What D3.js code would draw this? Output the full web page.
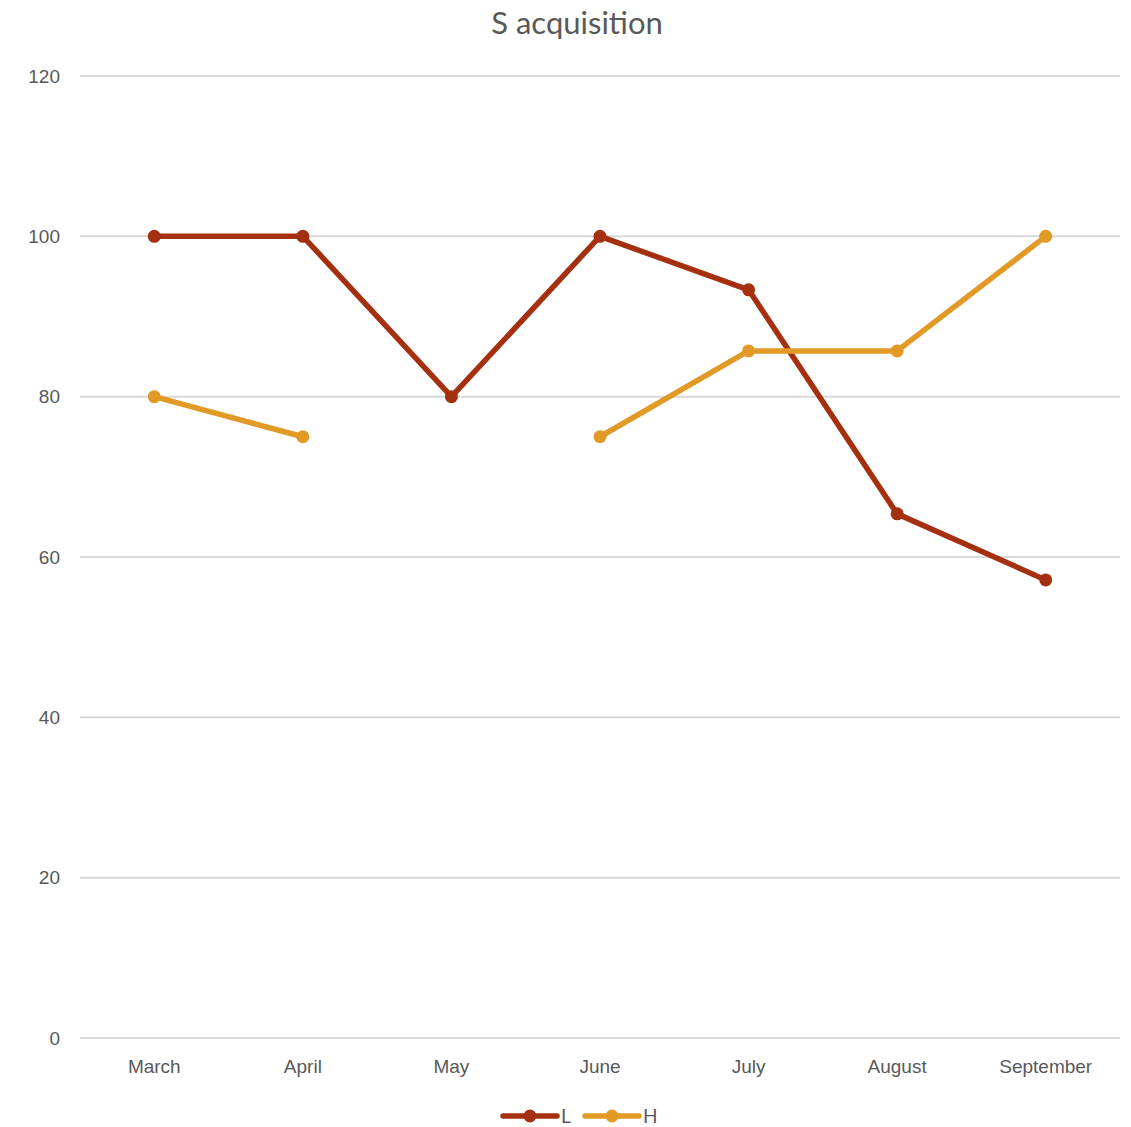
<!DOCTYPE html>
<html>
<head>
<meta charset="utf-8">
<script src="https://cdn.jsdelivr.net/npm/d3@7"></script>
<style>
  body { margin: 0; background: #fff; }
  svg { font-family: "Century Gothic", "URW Gothic", "Lato", sans-serif; }
</style>
</head>
<body>
<svg id="chart"></svg>
<script>
// chart data
const months = ["March", "April", "May", "June", "July", "August", "September"];
const seriesL = [100, 100, 80, 100, 93.33, 65.38, 57.14];
const seriesH = [80, 75, null, 75, 85.71, 85.71, 100];
const yTicks = [0, 20, 40, 60, 80, 100, 120];
const seriesNames = ["L", "H"];
const seriesColors = ["#A5300F", "#E29A27"];

const svgWidth = 1131, svgHeight = 1127;
const margin = { top: 76, left: 80, bottom: 89, right: 11 };
const width = svgWidth - margin.left - margin.right;
const height = svgHeight - margin.top - margin.bottom;

const svg = d3.select("#chart")
    .attr("width", svgWidth)
    .attr("height", svgHeight);

const g = svg.append("g")
    .attr("transform", "translate(" + margin.left + "," + margin.top + ")");

const x = d3.scaleBand()
    .domain(months)
    .range([0, width]);

const y = d3.scaleLinear()
    .domain([0, 120])
    .range([height, 0]);

// gridlines
g.append("g")
    .selectAll("line")
    .data(yTicks)
    .join("line")
    .attr("x1", 0)
    .attr("x2", width)
    .attr("y1", d => y(d))
    .attr("y2", d => y(d))
    .attr("stroke", "#D9D9D9")
    .attr("stroke-width", 2);

// y axis labels
const yAxis = g.append("g")
    .call(d3.axisLeft(y).tickValues(yTicks).tickSize(0).tickPadding(20));
yAxis.select(".domain").remove();
yAxis.selectAll("text")
    .attr("fill", "#595959")
    .style("font-size", "19px")
    .style("font-family", "inherit");

// x axis labels
const xAxis = g.append("g")
    .attr("transform", "translate(0," + height + ")")
    .call(d3.axisBottom(x).tickSize(0).tickPadding(22));
xAxis.select(".domain").remove();
xAxis.selectAll("text")
    .attr("fill", "#595959")
    .style("font-size", "19px")
    .style("font-family", "inherit");

const line = d3.line()
    .defined(d => d.v !== null)
    .x(d => x(d.m) + x.bandwidth() / 2)
    .y(d => y(d.v));

[seriesL, seriesH].forEach(function (vals, i) {
    const pts = months.map((m, j) => ({ m: m, v: vals[j] }));
    g.append("path")
        .datum(pts)
        .attr("fill", "none")
        .attr("stroke", seriesColors[i])
        .attr("stroke-width", 5.5)
        .attr("stroke-linejoin", "round")
        .attr("stroke-linecap", "round")
        .attr("d", line);
    g.append("g")
        .selectAll("circle")
        .data(pts.filter(d => d.v !== null))
        .join("circle")
        .attr("cx", d => x(d.m) + x.bandwidth() / 2)
        .attr("cy", d => y(d.v))
        .attr("r", 6.5)
        .attr("fill", seriesColors[i]);
});

// title
svg.append("text")
    .attr("x", 577)
    .attr("y", 34)
    .attr("text-anchor", "middle")
    .attr("fill", "#595959")
    .style("font-size", "31px")
    .text("S acquisition");

// legend
const legend = svg.append("g")
    .attr("transform", "translate(503,1116)");
const legendX = [0, 82];
seriesNames.forEach(function (name, i) {
    const lg = legend.append("g").attr("transform", "translate(" + legendX[i] + ",0)");
    lg.append("line")
        .attr("x1", 0).attr("x2", 54)
        .attr("stroke", seriesColors[i])
        .attr("stroke-width", 5.5)
        .attr("stroke-linecap", "round");
    lg.append("circle")
        .attr("cx", 27).attr("r", 6.5)
        .attr("fill", seriesColors[i]);
    lg.append("text")
        .attr("x", 58).attr("dy", "0.35em")
        .attr("fill", "#595959")
        .style("font-size", "19px")
        .text(name);
});
</script>
</body>
</html>
